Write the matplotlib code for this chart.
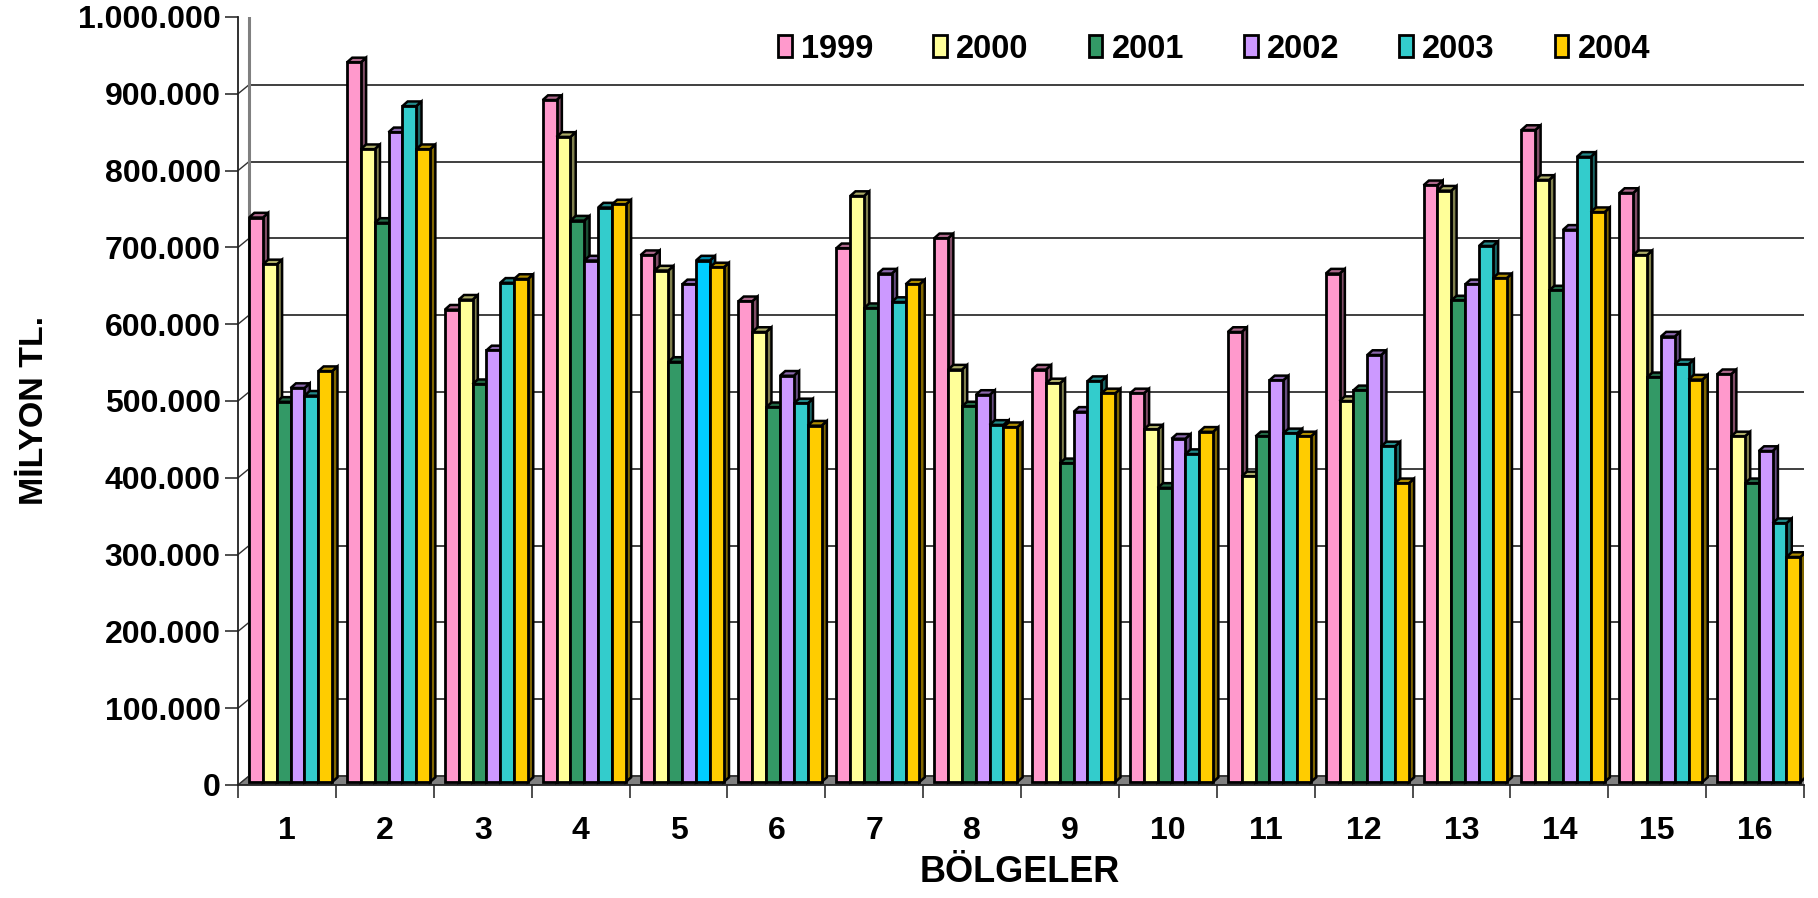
import matplotlib
matplotlib.use("Agg")
import matplotlib.pyplot as plt
from matplotlib.patches import Polygon, Patch
from matplotlib.colors import to_rgb
import numpy as np

# ---------------- data ----------------
regions = [str(i) for i in range(1, 17)]
years = ["1999", "2000", "2001", "2002", "2003", "2004"]
v1999 = [735, 937, 615, 888, 686, 626, 695, 708, 537, 506, 586, 662, 777, 849, 767, 531]
v2000 = [674, 824, 628, 840, 666, 586, 763, 537, 519, 459, 398, 496, 770, 784, 686, 450]
v2001 = [495, 728, 518, 731, 547, 488, 617, 489, 415, 383, 450, 510, 627, 640, 527, 389]
v2002 = [513, 846, 562, 679, 648, 529, 662, 504, 482, 447, 523, 556, 648, 719, 580, 431]
v2003 = [503, 880, 650, 748, 679, 493, 625, 465, 522, 427, 454, 437, 698, 814, 544, 337]
v2004 = [535, 824, 655, 752, 670, 464, 648, 462, 506, 456, 450, 389, 656, 742, 524, 293]
series = [v1999, v2000, v2001, v2002, v2003, v2004]
yticks = [0, 100000, 200000, 300000, 400000, 500000, 600000, 700000, 800000, 900000, 1000000]
ytick_labels = ["0", "100.000", "200.000", "300.000", "400.000", "500.000",
                "600.000", "700.000", "800.000", "900.000", "1.000.000"]

colors = ["#FF99CC", "#FFFF99", "#339966", "#CC99FF", "#33CCCC", "#FFCC00"]
special_color = "#00CCFF"   # region 5, 2003 bar drawn in a brighter cyan

FONT = "Liberation Sans"

W, H = 1818, 898
fig = plt.figure(figsize=(W / 100, H / 100), dpi=100)
ax_l, ax_r, ax_b, ax_t = 238, 1804, 785, 17
ax = fig.add_axes([ax_l / W, (H - ax_b) / H, (ax_r - ax_l) / W, (ax_b - ax_t) / H])
ax.set_xlim(0, 16)
ax.set_ylim(0, 1000000)
for s in ax.spines.values():
    s.set_visible(False)
ax.patch.set_visible(False)

# pixel -> data conversion for the pseudo-3D depth
fig.canvas.draw()
pxx = ax.bbox.width / 16.0
pxy = ax.bbox.height / 1000000.0
def dx(px):
    return px / pxx
def dy(px):
    return px / pxy

WALL_DX, WALL_DY = 11, 9       # back wall offset (px)
BAR_FX, BAR_FY = 3.7, 3        # front plane of bars (px)
BAR_DX, BAR_DY = 5.3, 4.7      # bar depth (px)

# floor
floor = Polygon([(0, 0), (16, 0), (16 + dx(WALL_DX), dy(WALL_DY)), (dx(WALL_DX), dy(WALL_DY))],
                closed=True, facecolor="#808080", edgecolor="#808080", lw=1, zorder=1)
ax.add_patch(floor)

# back wall gridlines
x0w, x1w = dx(WALL_DX), 16 + dx(WALL_DX)
for t in yticks:
    c = "#808080" if t == yticks[-1] else "#303030"
    lw = 2.0 if t == yticks[-1] else 1.3
    ax.plot([x0w, x1w], [t + dy(WALL_DY), t + dy(WALL_DY)], color=c, lw=lw, zorder=1.5,
            solid_capstyle="butt")
    ax.plot([0, x0w], [t, t + dy(WALL_DY)], color="#303030", lw=1.0, zorder=1.5)
# wall edges
ax.plot([x0w, x0w], [dy(WALL_DY), 1000000 + dy(WALL_DY)], color="#808080", lw=2.2, zorder=1.6)
ax.plot([x1w, x1w], [dy(WALL_DY), 1000000 + dy(WALL_DY)], color="#808080", lw=2.2, zorder=1.6)
ax.plot([16, x1w], [0, dy(WALL_DY)], color="#606060", lw=1.2, zorder=1.6)

# front axes lines
ax.plot([0, 0], [0, 1000000], color="#202020", lw=1.3, zorder=1.7, clip_on=False)
ax.plot([0, 16], [0, 0], color="#202020", lw=1.3, zorder=1.7, clip_on=False)

# bars
bw = 0.1415
ncat = len(regions)
xc = np.arange(ncat) + 0.5
z = 3.0
for gi in range(ncat):
    for si, vals in enumerate(series):
        v = vals[gi] * 1000.0
        col = colors[si]
        if gi == 4 and si == 4:
            col = special_color
        rgb = np.array(to_rgb(col))
        top_c = rgb * 0.68
        side_c = rgb * 0.5
        left = xc[gi] - 3 * bw + si * bw + dx(BAR_FX)
        bot = dy(BAR_FY)
        right = left + bw
        topy = bot + v
        ddx, ddy = dx(BAR_DX), dy(BAR_DY)
        side = Polygon([(right, bot), (right + ddx, bot + ddy), (right + ddx, topy + ddy), (right, topy)],
                       closed=True, facecolor=side_c, edgecolor="black", lw=1.8, zorder=z,
                       joinstyle="miter")
        top = Polygon([(left, topy), (right, topy), (right + ddx, topy + ddy), (left + ddx, topy + ddy)],
                      closed=True, facecolor=top_c, edgecolor="black", lw=1.8, zorder=z,
                      joinstyle="miter")
        ax.add_patch(side)
        ax.add_patch(top)
        ax.bar(left, v, width=bw, bottom=bot, align="edge", color=col, edgecolor="black",
               linewidth=2.0, zorder=z + 0.01)
        z += 0.02

# ticks
ax.set_yticks(yticks)
ax.set_yticklabels(ytick_labels, fontfamily=FONT, fontweight="bold", fontsize=23)
ax.tick_params(axis="y", length=9.5, width=1.2, color="#303030", pad=3)
ax.set_xticks(np.arange(0, 17))
ax.set_xticklabels([])
ax.set_xticks(xc, minor=True)
ax.set_xticklabels(regions, minor=True, fontfamily=FONT, fontweight="bold", fontsize=23)
ax.tick_params(axis="x", which="major", length=9.5, width=1.2, color="#303030")
ax.tick_params(axis="x", which="minor", length=0, pad=22)

fig.text(35 / W, 1 - 410 / H, "MİLYON TL.", rotation=90, ha="center", va="center",
         fontfamily=FONT, fontweight="bold", fontsize=24.5)
fig.text(1020 / W, 1 - 873 / H, "BÖLGELER", ha="center", va="center",
         fontfamily=FONT, fontweight="bold", fontsize=26)

# legend
handles = [Patch(facecolor=c, edgecolor="black", linewidth=2) for c in colors]
leg = fig.legend(handles, years, loc="center", bbox_to_anchor=(1214 / W, 1 - 49 / H), ncol=6,
                 frameon=False, handlelength=0.42, handleheight=0.62, handletextpad=0.28,
                 columnspacing=1.84, prop={"family": FONT, "weight": "bold", "size": 23.5})
leg.set_zorder(20)

fig.savefig("out.png", dpi=100)
